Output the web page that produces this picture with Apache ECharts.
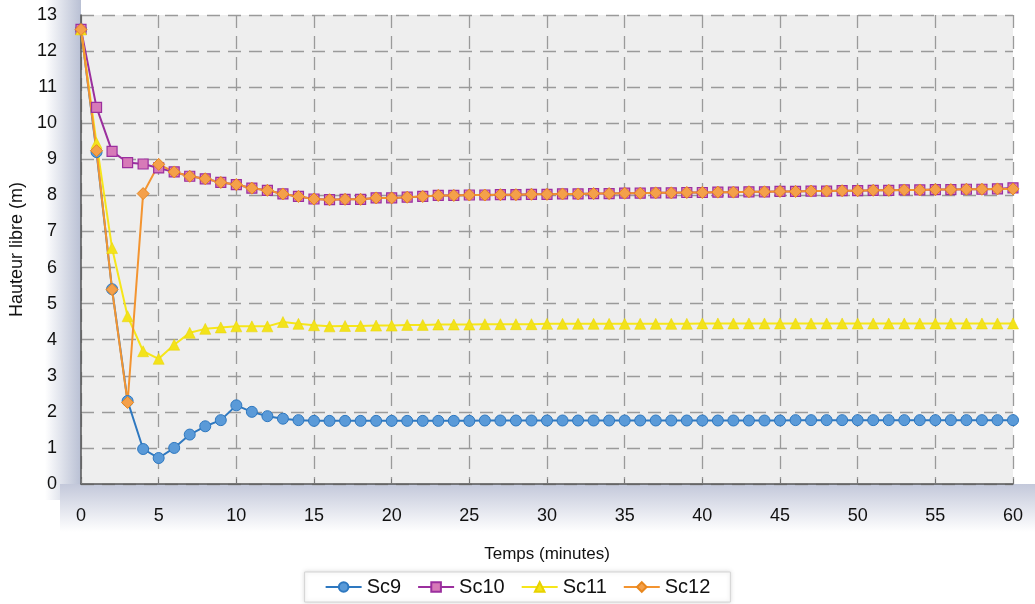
<!DOCTYPE html>
<html>
<head>
<meta charset="utf-8">
<script src="https://cdn.jsdelivr.net/npm/echarts@6/dist/echarts.min.js"></script>
<style>
html,body{margin:0;padding:0;background:#fff;}
#chart{width:1035px;height:604px;}
</style>
</head>
<body>
<div id="chart"></div>
<script>
var minutes = [0,1,2,3,4,5,6,7,8,9,10,11,12,13,14,15,16,17,18,19,20,21,22,23,24,25,26,27,28,29,30,31,32,33,34,35,36,37,38,39,40,41,42,43,44,45,46,47,48,49,50,51,52,53,54,55,56,57,58,59,60];
var sc9 = [12.6,9.2,5.4,2.3,0.97,0.72,1.0,1.37,1.6,1.77,2.18,2.0,1.88,1.81,1.77,1.75,1.75,1.75,1.75,1.75,1.75,1.75,1.75,1.75,1.75,1.75,1.76,1.76,1.76,1.76,1.76,1.76,1.76,1.76,1.76,1.76,1.76,1.76,1.76,1.76,1.76,1.76,1.76,1.76,1.76,1.76,1.77,1.77,1.77,1.77,1.77,1.77,1.77,1.77,1.77,1.77,1.77,1.77,1.77,1.77,1.77];
var sc10 = [12.6,10.44,9.22,8.91,8.87,8.76,8.65,8.53,8.46,8.36,8.3,8.2,8.14,8.04,7.97,7.9,7.88,7.89,7.89,7.93,7.93,7.95,7.97,8.0,8.0,8.01,8.01,8.02,8.02,8.03,8.03,8.04,8.04,8.05,8.05,8.06,8.06,8.07,8.07,8.08,8.08,8.09,8.09,8.1,8.1,8.11,8.11,8.12,8.12,8.13,8.13,8.14,8.14,8.15,8.15,8.16,8.16,8.17,8.17,8.18,8.21];
var sc11 = [12.6,9.45,6.54,4.65,3.68,3.47,3.86,4.19,4.3,4.34,4.37,4.37,4.37,4.49,4.44,4.4,4.37,4.38,4.38,4.39,4.39,4.41,4.41,4.42,4.42,4.42,4.43,4.43,4.43,4.43,4.44,4.44,4.44,4.44,4.44,4.44,4.44,4.44,4.44,4.44,4.45,4.45,4.45,4.45,4.45,4.45,4.45,4.45,4.45,4.45,4.45,4.45,4.45,4.45,4.45,4.45,4.45,4.45,4.45,4.45,4.45];
var sc12 = [12.6,9.24,5.39,2.26,8.05,8.86,8.65,8.53,8.46,8.36,8.3,8.2,8.14,8.04,7.97,7.9,7.88,7.89,7.89,7.93,7.93,7.95,7.97,8.0,8.0,8.01,8.01,8.02,8.02,8.03,8.03,8.04,8.04,8.05,8.05,8.06,8.06,8.07,8.07,8.08,8.08,8.09,8.09,8.1,8.1,8.11,8.11,8.12,8.12,8.13,8.13,8.14,8.14,8.15,8.15,8.16,8.16,8.17,8.17,8.18,8.18];
var seriesNames = ['Sc9','Sc10','Sc11','Sc12'];
var xTitle = 'Temps (minutes)';
var yTitle = 'Hauteur libre (m)';

function pairs(vals){ return minutes.map(function(m,i){ return [m, vals[i]]; }); }

var FONT = "'Liberation Sans', Arial, sans-serif";
var chart = echarts.init(document.getElementById('chart'), null, {renderer:'canvas'});
chart.setOption({
  backgroundColor: '#ffffff',
  animation: false,
  textStyle: {fontFamily: FONT},
  graphic: [
    {type:'rect', z:-10, silent:true, shape:{x:45, y:0, width:36, height:500},
     style:{fill:new echarts.graphic.LinearGradient(0,0,1,0,[{offset:0,color:'rgba(255,255,255,1)'},{offset:1,color:'rgba(185,192,212,1)'}])}},
    {type:'rect', z:-10, silent:true, shape:{x:60, y:484, width:975, height:48},
     style:{fill:new echarts.graphic.LinearGradient(0,0,0,1,[{offset:0,color:'rgba(195,200,218,1)'},{offset:1,color:'rgba(255,255,255,1)'}])}}
  ],
  grid: {left:81, right:22, top:15, bottom:120, show:true, backgroundColor:'#eeeeee', borderWidth:0},
  legend: {
    data: seriesNames, bottom: 2, left: 'center',
    itemWidth: 36, itemHeight: 12, itemGap: 16,
    padding: [5, 20, 5, 20],
    backgroundColor: '#ffffff', borderColor: '#d4d4d4', borderWidth: 1,
    shadowColor: 'rgba(0,0,0,0.15)', shadowBlur: 4,
    textStyle: {fontSize: 20, color: '#111', fontFamily: FONT}
  },
  xAxis: {
    type: 'value', min: 0, max: 60, interval: 5,
    name: xTitle, nameLocation: 'middle', nameGap: 62,
    nameTextStyle: {fontSize: 17, color: '#111'},
    axisLine: {show:true, lineStyle:{color:'#555', width:1.5}},
    axisTick: {show:true, length:5, inside:true, lineStyle:{color:'#777'}},
    axisLabel: {fontSize: 18, color: '#111', margin: 23},
    splitLine: {show:true, lineStyle:{color:'#9a9a9a', type:[13,8], width:1.3}}
  },
  yAxis: {
    type: 'value', min: 0, max: 13, interval: 1,
    name: yTitle, nameLocation: 'middle', nameGap: 54,
    nameTextStyle: {fontSize: 18, color: '#111'},
    axisLine: {show:true, lineStyle:{color:'#555', width:1.5}},
    axisTick: {show:false},
    axisLabel: {fontSize: 18, color: '#111', margin: 24},
    splitLine: {show:true, lineStyle:{color:'#9a9a9a', type:[13,8], width:1.3}}
  },
  series: [
    {name:'Sc9', type:'line', data:pairs(sc9), symbol:'circle', symbolSize:11,
     lineStyle:{color:'#2e78c0', width:2}, itemStyle:{color:'#5a9ad8', borderColor:'#2e78c0', borderWidth:1}},
    {name:'Sc10', type:'line', data:pairs(sc10), symbol:'rect', symbolSize:10,
     lineStyle:{color:'#9b2f9e', width:2}, itemStyle:{color:'#d77ab8', borderColor:'#9b2f9e', borderWidth:1.2}},
    {name:'Sc11', type:'line', data:pairs(sc11), symbol:'triangle', symbolSize:11,
     lineStyle:{color:'#f6e61a', width:2}, itemStyle:{color:'#f3e31a', borderColor:'#e8d200', borderWidth:0.5}},
    {name:'Sc12', type:'line', data:pairs(sc12), symbol:'diamond', symbolSize:12,
     lineStyle:{color:'#f39430', width:2}, itemStyle:{color:'#f4a04a', borderColor:'#e8871e', borderWidth:1}}
  ]
});
</script>
</body>
</html>
